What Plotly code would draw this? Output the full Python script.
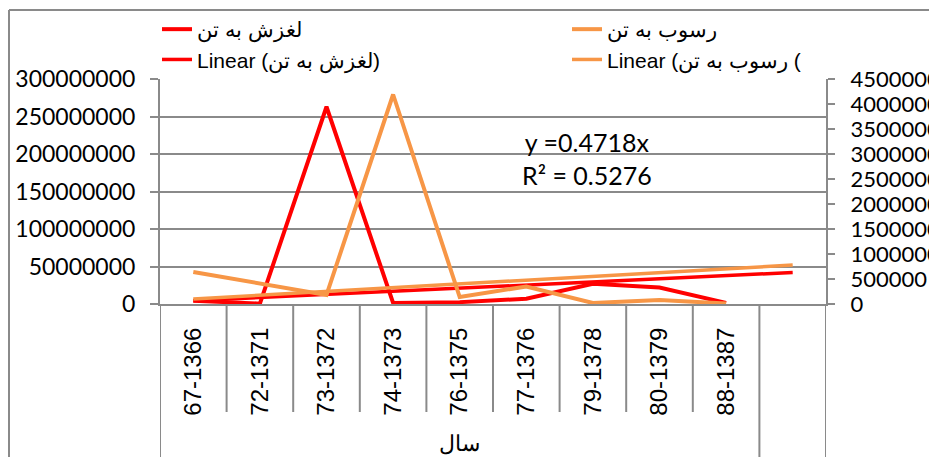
import plotly.graph_objects as go

# ---- data ----
categories = ["67-1366", "72-1371", "73-1372", "74-1373", "76-1375",
              "77-1376", "79-1378", "80-1379", "88-1387"]
group_label = "سال"
landslide_ton = [4.4e6, 0.5e6, 263e6, 1.5e6, 2.5e6, 7e6, 27e6, 22e6, 1.5e6]      # لغزش به تن (left axis)
sediment_ton = [0.64e6, 0.41e6, 0.18e6, 4.19e6, 0.14e6, 0.35e6, 0.02e6, 0.08e6, 0.01e6]  # رسوب به تن (right axis)
landslide_trend = [4.4e6, 42e6]      # linear trend: first period and one period forward
sediment_trend = [0.1e6, 0.78e6]
name_landslide = "لغزش به تن"
name_sediment = "رسوب به تن"
name_landslide_trend = "Linear (لغزش به تن)"
name_sediment_trend = "Linear (رسوب به تن ("
eq_text = "y =0.4718x<br>R² = 0.5276"

RED = "#FF0000"
ORANGE = "#F79646"
GRID = "#8a8a8a"
NUM_FONT = "Lato"
TXT_FONT = "Liberation Sans"

x_idx = list(range(len(categories)))
trend_x = [0, len(categories)]

fig = go.Figure()
fig.add_trace(go.Scatter(x=x_idx, y=landslide_ton, name=name_landslide, mode="lines",
                         line=dict(color=RED, width=4), yaxis="y"))
fig.add_trace(go.Scatter(x=x_idx, y=sediment_ton, name=name_sediment, mode="lines",
                         line=dict(color=ORANGE, width=4), yaxis="y2"))
fig.add_trace(go.Scatter(x=trend_x, y=landslide_trend, name=name_landslide_trend, mode="lines",
                         line=dict(color=RED, width=3.5), yaxis="y"))
fig.add_trace(go.Scatter(x=trend_x, y=sediment_trend, name=name_sediment_trend, mode="lines",
                         line=dict(color=ORANGE, width=3.5), yaxis="y2"))

# page is rendered with an 8px body margin: work in page pixels, shift into figure pixels
OFF = 8
PAGE_W, PAGE_H = 937, 457
W, H = PAGE_W - OFF, PAGE_H - OFF
PL, PR, PT, PB = 160, 826, 79, 304          # plot area in page pixels
L, R, T, B = PL - OFF, PAGE_W - PR, PT - OFF, PAGE_H - PB
pw, ph = PR - PL, PB - PT


def px_x(px):
    return (px - PL) / pw


def px_y(py):
    return (PB - py) / ph


fig.update_layout(
    width=W, height=H,
    margin=dict(l=L, r=R, t=T, b=B, pad=0, autoexpand=False),
    paper_bgcolor="white", plot_bgcolor="white",
    showlegend=True,
    legend=dict(orientation="h", x=px_x(157), xanchor="left", y=px_y(9), yanchor="top",
                entrywidth=365, entrywidthmode="pixels",
                font=dict(family=TXT_FONT, size=21, color="black"),
                bgcolor="rgba(0,0,0,0)", traceorder="normal"),
    xaxis=dict(range=[-0.5, len(categories) + 0.5], tickvals=x_idx, ticktext=categories,
               tickangle=-90, ticks="", showgrid=False, zeroline=False,
               showline=True, linecolor=GRID, linewidth=2,
               tickfont=dict(family=TXT_FONT, size=24, color="black"),
               ticklabelstandoff=12),
    yaxis=dict(range=[0, 300e6], dtick=50e6, tickformat="d", showgrid=True,
               gridcolor=GRID, gridwidth=1.5, zeroline=False,
               showline=True, linecolor=GRID, linewidth=2,
               ticks="outside", ticklen=8, tickcolor=GRID, tickwidth=2,
               tickfont=dict(family=NUM_FONT, size=23, color="black"),
               ticklabelstandoff=10),
    yaxis2=dict(range=[0, 4.5e6], dtick=0.5e6, tickformat="d", overlaying="y", side="right",
                showgrid=False, zeroline=False,
                showline=True, linecolor=GRID, linewidth=2,
                ticks="outside", ticklen=7, tickcolor=GRID, tickwidth=2,
                tickfont=dict(family=NUM_FONT, size=22, color="black"),
                ticklabelstandoff=11),
)

shapes = []
n = len(categories) + 1
for i in range(n + 1):
    xb = i - 0.5
    long_line = i in (0, len(categories), n)
    y1 = px_y(PAGE_H + 2) if long_line else px_y(412)
    shapes.append(dict(type="line", xref="x", yref="paper", x0=xb, x1=xb, y0=0, y1=y1,
                       line=dict(color=GRID, width=2)))
# outer chart frame (page x = 9, page y = 10)
shapes.append(dict(type="line", xref="paper", yref="paper", x0=px_x(9), x1=px_x(9),
                   y0=px_y(10), y1=px_y(PAGE_H + 2), line=dict(color=GRID, width=2)))
shapes.append(dict(type="line", xref="paper", yref="paper", x0=px_x(9), x1=px_x(PAGE_W + 5),
                   y0=px_y(10), y1=px_y(10), line=dict(color=GRID, width=2)))
fig.update_layout(shapes=shapes)

fig.add_annotation(x=(len(categories) - 1) / 2, xref="x", y=px_y(443), yref="paper",
                   yanchor="middle", text=group_label, showarrow=False,
                   font=dict(family=TXT_FONT, size=22, color="black"))
fig.add_annotation(x=px_x(587), xref="paper", y=px_y(158), yref="paper", yanchor="middle",
                   text=eq_text, showarrow=False, align="center",
                   font=dict(family=NUM_FONT, size=25, color="black"))

fig.write_html("out.html")
